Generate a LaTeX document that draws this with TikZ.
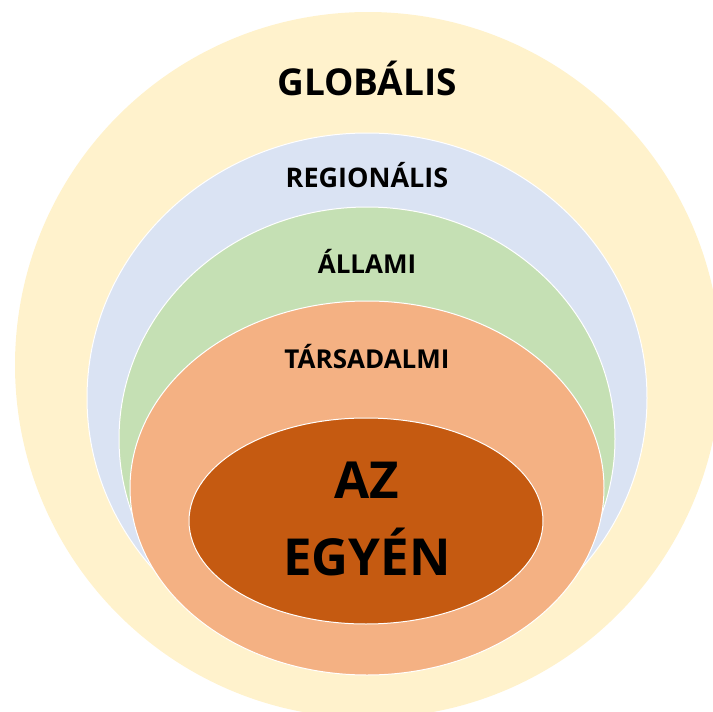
\documentclass[tikz,border=0pt]{standalone}
\usepackage{fontspec}
\setmainfont{Open Sans}
\usepackage{xcolor}
\definecolor{lvlglobal}{HTML}{FFF2CC}
\definecolor{lvlregion}{HTML}{DAE3F3}
\definecolor{lvlstate}{HTML}{C5E0B4}
\definecolor{lvlsociety}{HTML}{F4B183}
\definecolor{lvlself}{HTML}{C55A11}
\usepackage{tikz}
\usetikzlibrary{shapes.geometric, positioning}

\begin{document}
\begin{tikzpicture}[
        x=1pt, y=-1pt,
        layer/.style={
            ellipse,
            draw=white,
            line width=1pt,
            inner sep=0pt
        },
        caption/.style={
            anchor=base,
            font=\bfseries,
            text=black
        }
    ]
        \useasboundingbox (0,0) rectangle (713,712);
        \clip (0,0) rectangle (713,712);

        % Layers
        \node[circle, fill=lvlglobal, inner sep=0pt, minimum size=706pt] (global) at (368,365) {};
        \node[layer, fill=lvlregion, minimum width=560pt, minimum height=530pt] (regional) at (367,398) {};
        \node[layer, fill=lvlstate, minimum width=496pt, minimum height=464pt] (state) at (367,439) {};
        \node[layer, fill=lvlsociety, minimum width=474pt, minimum height=374pt] (society) at (367,488) {};
        \node[layer, fill=lvlself, minimum width=354pt, minimum height=206pt] (self) at (366,521) {};

        % Labels
        \node[caption, font=\bfseries\fontsize{37}{40}\selectfont] (globallabel) at (367,95) {GLOBÁLIS};
        \node[caption, font=\bfseries\fontsize{27}{30}\selectfont] (regionallabel) at (367,187) {REGIONÁLIS};
        \node[caption, font=\bfseries\fontsize{26}{30}\selectfont] (statelabel) at (367,273) {ÁLLAMI};
        \node[caption, font=\bfseries\fontsize{26}{30}\selectfont] (societylabel) at (367,368) {TÁRSADALMI};
        \node[caption, font=\bfseries\fontsize{51}{55}\selectfont] (selflabel1) at (367,498) {AZ};
        \node[caption, font=\bfseries\fontsize{51}{55}\selectfont] (selflabel2) at (367,575) {EGYÉN};
    \end{tikzpicture}
\end{document}
